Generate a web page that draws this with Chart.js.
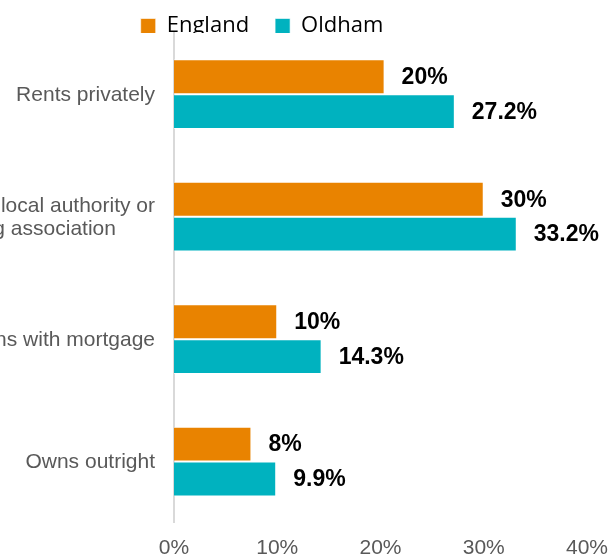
<!DOCTYPE html>
<html lang="en">

<head>
    <meta charset="UTF-8">
    <title>Tenure - England vs Oldham</title>
    <script src="https://cdn.jsdelivr.net/npm/chart.js"></script>
    <style>
        html, body { margin: 0; padding: 0; background: #fff; overflow: hidden; width: 613px; height: 557px; }
        #wrap { position: absolute; left: -120px; top: -11px; width: 733px; height: 577px; }
    </style>
</head>

<body>
    <div id="wrap">
        <canvas id="myChart" width="733" height="577"></canvas>
    </div>
    <script>
        // dados
        const categorias = [
            'Rents privately',
            ['Rents from local authority or', 'housing association'],
            'Owns with mortgage',
            'Owns outright'
        ];
        const series = ['England', 'Oldham'];
        const england = [20.4, 30, 10, 7.5];
        const oldham = [27.2, 33.2, 14.3, 9.9];
        const casasDecimais = [0, 1];
        const ticksX = [0, 10, 20, 30, 40];
        const cores = ['#E98300', '#00B2BF'];

        // desenha os nomes das categorias (linhas centradas entre si, bloco alinhado à direita)
        const rotulosCategorias = {
            id: 'rotulosCategorias',
            beforeInit(chart) {
                const fitOriginal = chart.legend.fit;
                chart.legend.fit = function () {
                    fitOriginal.call(this);
                    this.height = 44;
                };
            },
            afterDraw(chart) {
                const ctx = chart.ctx;
                const escalaY = chart.scales.y;
                const direita = chart.chartArea.left - 19;
                ctx.save();
                ctx.font = '21px "Liberation Sans", Arial, sans-serif';
                ctx.fillStyle = '#595959';
                ctx.textAlign = 'center';
                ctx.textBaseline = 'middle';
                categorias.forEach((cat, i) => {
                    const linhas = Array.isArray(cat) ? cat : [cat];
                    const larguraMax = Math.max(...linhas.map(l => ctx.measureText(l).width));
                    const cx = direita - larguraMax / 2;
                    const yCentro = escalaY.getPixelForValue(i) + 1;
                    const alturaLinha = 23;
                    linhas.forEach((linha, k) => {
                        const y = yCentro + (k - (linhas.length - 1) / 2) * alturaLinha;
                        ctx.fillText(linha, cx, y);
                    });
                });
                ctx.restore();
            },
            afterDatasetsDraw(chart) {
                const ctx = chart.ctx;
                ctx.save();
                ctx.font = 'bold 23px "Liberation Sans", Arial, sans-serif';
                ctx.fillStyle = '#000';
                ctx.textAlign = 'left';
                ctx.textBaseline = 'middle';
                chart.data.datasets.forEach((ds, i) => {
                    const meta = chart.getDatasetMeta(i);
                    meta.data.forEach((barra, j) => {
                        const texto = ds.data[j].toFixed(casasDecimais[i]) + '%';
                        ctx.fillText(texto, barra.x + 17, barra.y + 1);
                    });
                });
                ctx.restore();
            }
        };

        const data = {
            labels: categorias,
            datasets: [{
                label: series[0],
                data: england,
                backgroundColor: cores[0],
                borderColor: 'rgba(255,255,255,0.6)',
                borderWidth: 1
            }, {
                label: series[1],
                data: oldham,
                backgroundColor: cores[1],
                borderColor: 'rgba(255,255,255,0.6)',
                borderWidth: 1
            }]
        };

        const config = {
            type: 'bar',
            data: data,
            plugins: [rotulosCategorias],
            options: {
                indexAxis: 'y',
                responsive: false,
                animation: false,
                devicePixelRatio: 1,
                categoryPercentage: 0.57,
                barPercentage: 1,
                layout: {
                    padding: { left: 44, right: 13, top: 0, bottom: 0 }
                },
                plugins: {
                    legend: {
                        display: true,
                        position: 'top',
                        labels: {
                            color: '#000',
                            font: { family: '"Open Sans"', size: 22 },
                            boxWidth: 15,
                            boxHeight: 15,
                            padding: 26
                        }
                    },
                    tooltip: { enabled: false }
                },
                scales: {
                    x: {
                        min: ticksX[0],
                        max: ticksX[ticksX.length - 1],
                        grid: { display: false },
                        border: { display: false },
                        afterBuildTicks: function (escala) {
                            escala.ticks = ticksX.map(v => ({ value: v }));
                        },
                        ticks: {
                            color: '#595959',
                            padding: 5,
                            font: { family: '"Liberation Sans", Arial', size: 21 },
                            callback: function (v) { return v + '%'; }
                        }
                    },
                    y: {
                        grid: { display: false },
                        border: { display: true, color: '#d9d9d9', width: 2 },
                        ticks: { display: false },
                        afterFit: function (escala) { escala.width = 250; }
                    }
                }
            }
        };

        const canvas = document.getElementById('myChart');
        new Chart(canvas, config);
    </script>
</body>

</html>
